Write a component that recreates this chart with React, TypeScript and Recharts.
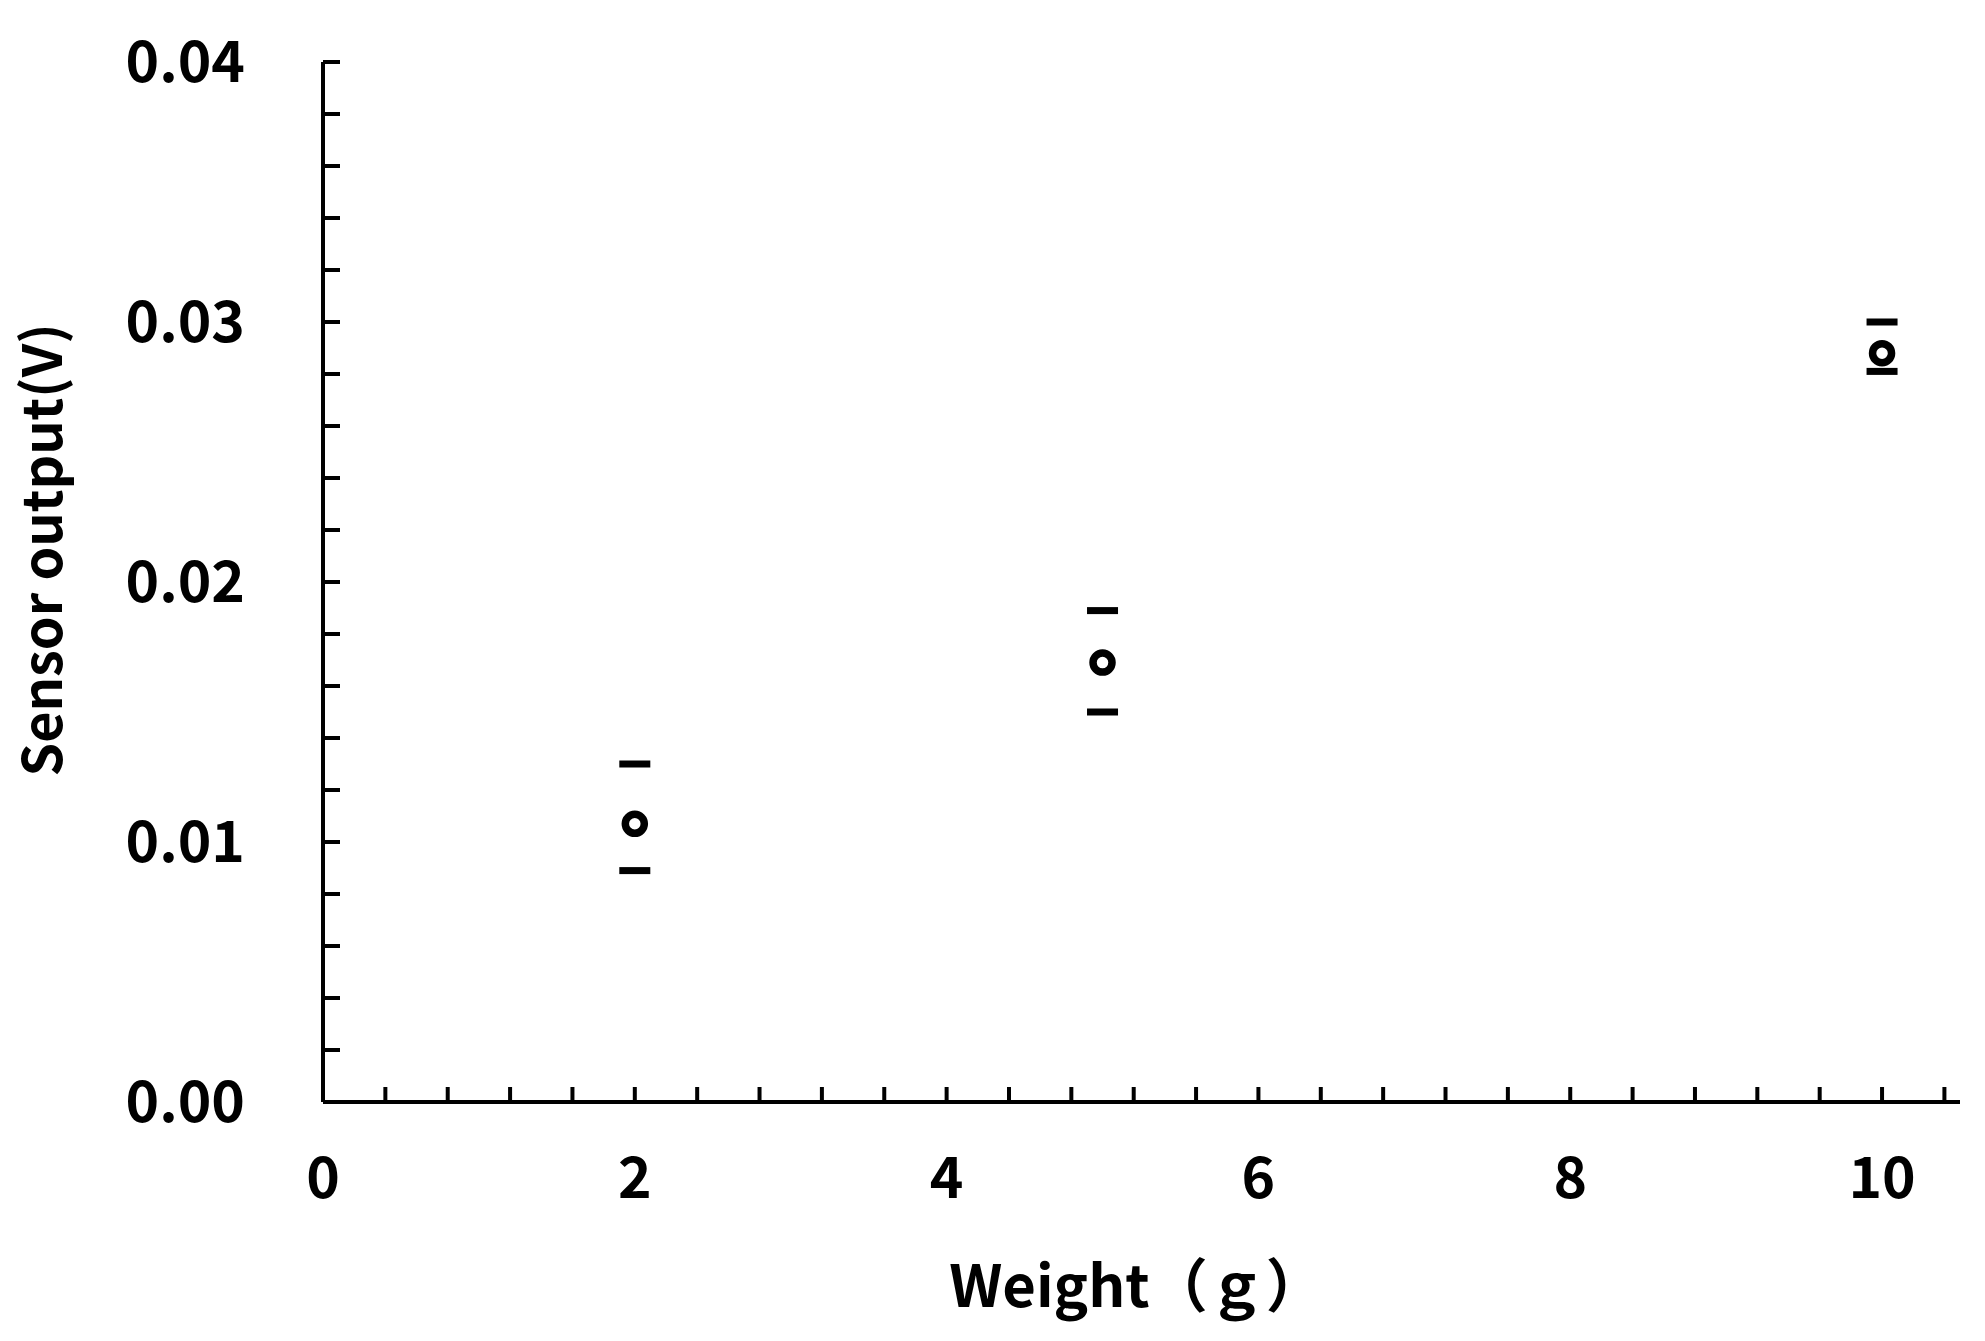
import { Label, Scatter, ScatterChart, XAxis, YAxis } from "recharts";

// Weight (g) vs sensor output (V); caps are the spread around each mean.
const weights = [2, 5, 10];
const meanOutput = [0.0107, 0.0169, 0.0288];
const upperOutput = [0.013, 0.0189, 0.03];
const lowerOutput = [0.0089, 0.015, 0.0281];

const xTicks = [0, 0.4, 0.8, 1.2, 1.6, 2, 2.4, 2.8, 3.2, 3.6, 4, 4.4, 4.8, 5.2, 5.6, 6, 6.4, 6.8, 7.2, 7.6, 8, 8.4, 8.8, 9.2, 9.6, 10, 10.4];
const xLabelled = [0, 2, 4, 6, 8, 10];
const yTicks = [0, 0.002, 0.004, 0.006, 0.008, 0.01, 0.012, 0.014, 0.016, 0.018, 0.02, 0.022, 0.024, 0.026, 0.028, 0.03, 0.032, 0.034, 0.036, 0.038, 0.04];
const yLabelled = [0, 0.01, 0.02, 0.03, 0.04];

const FONT = "'Noto Sans CJK JP', 'Liberation Sans', sans-serif";

const toPoints = (ys: number[]) => weights.map((x, i) => ({ x, y: ys[i] }));

const isOneOf = (v: number, list: number[]) => list.some((l) => Math.abs(l - v) < 1e-9);

function Ring(props: any) {
  const { cx, cy } = props;
  return <circle cx={cx} cy={cy} r={9.5} fill="#fff" stroke="#000" strokeWidth={7.5} />;
}

function Cap(props: any) {
  const { cx, cy } = props;
  return <rect x={cx - 15.5} y={cy - 3.5} width={31} height={7} fill="#000" />;
}

const tickStyle = { fontSize: 57, fill: "#000", fontFamily: FONT, fontWeight: 700 };

export default function App() {
  return (
    <div style={{ position: "absolute", left: 0, top: 0, background: "#fff" }}>
      <ScatterChart width={1985} height={1341} margin={{ top: 62, right: 25, bottom: 0, left: 0 }}>
        <XAxis
          type="number"
          dataKey="x"
          domain={[0, 10.5]}
          ticks={xTicks}
          interval={0}
          allowDataOverflow
          height={239}
          axisLine={{ stroke: "#000", strokeWidth: 4 }}
          tickLine={{ stroke: "#000", strokeWidth: 4 }}
          tickSize={-15}
          tickMargin={71}
          tick={tickStyle}
          tickFormatter={(v: number) => (isOneOf(v, xLabelled) ? String(Math.round(v)) : "")}
        >
          <Label
            content={({ viewBox }: any) => (
              <text
                x={viewBox.x + viewBox.width / 2 - 5}
                y={viewBox.y + 205}
                textAnchor="middle"
                fontSize={58}
                fontWeight={700}
                fontFamily={FONT}
                fill="#000"
              >
                Weight（ｇ）
              </text>
            )}
          />
        </XAxis>
        <YAxis
          type="number"
          dataKey="y"
          domain={[0, 0.04]}
          ticks={yTicks}
          interval={0}
          allowDataOverflow
          width={323}
          axisLine={{ stroke: "#000", strokeWidth: 4 }}
          tickLine={{ stroke: "#000", strokeWidth: 4 }}
          tickSize={-17}
          tickMargin={95}
          tick={tickStyle}
          tickFormatter={(v: number) => (isOneOf(v, yLabelled) ? v.toFixed(2) : "")}
        >
          <Label
            content={({ viewBox }: any) => {
              const x = viewBox.x + 62;
              const y = viewBox.y + viewBox.height / 2 - 32;
              return (
                <text
                  x={x}
                  y={y}
                  transform={`rotate(-90, ${x}, ${y})`}
                  textAnchor="middle"
                  fontSize={54}
                  fontWeight={700}
                  fontFamily={FONT}
                  fill="#000"
                >
                  Sensor output(V)
                </text>
              );
            }}
          />
        </YAxis>
        <Scatter data={toPoints(upperOutput)} shape={Cap} isAnimationActive={false} />
        <Scatter data={toPoints(lowerOutput)} shape={Cap} isAnimationActive={false} />
        <Scatter data={toPoints(meanOutput)} shape={Ring} isAnimationActive={false} />
      </ScatterChart>
    </div>
  );
}
